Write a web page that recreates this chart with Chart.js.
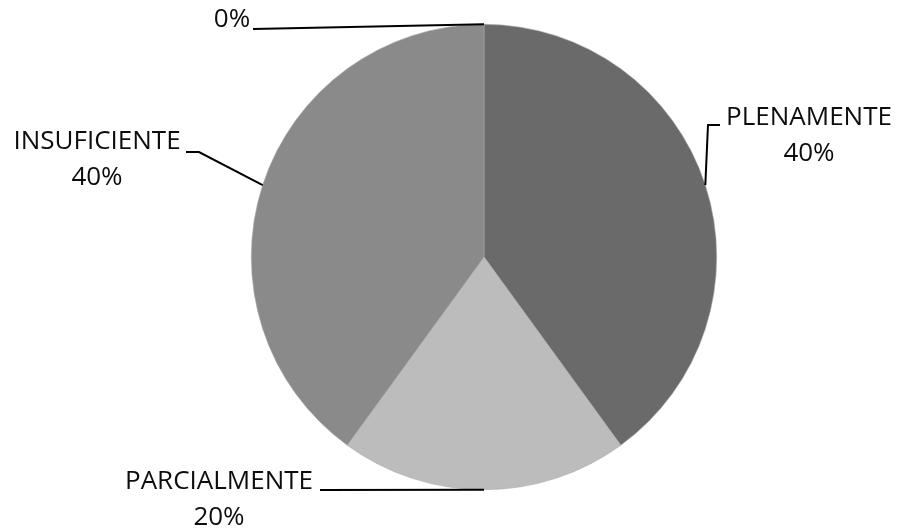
<!DOCTYPE html>
<html>
<head>
<meta charset="utf-8">
<script src="https://cdn.jsdelivr.net/npm/chart.js@4/dist/chart.umd.min.js"></script>
<style>
  html, body { margin: 0; padding: 0; background: #fff; }
  #wrap { width: 899px; height: 530px; }
</style>
</head>
<body>
<div id="wrap"><canvas id="pieChart" width="899" height="530"></canvas></div>
<script>
// chart data
const categories = ['PLENAMENTE', 'PARCIALMENTE', 'INSUFICIENTE', ''];
const values = [40, 20, 40, 0];
const sliceColors = ['#6a6a6a', '#bcbcbc', '#8a8a8a', '#8a8a8a'];

// where each label sits (text centre) and the elbow of its leader line
const labelSpots = [
  { x: 809, y: 118, elbow: [708, 125], start: [720, 125] },
  { x: 219, y: 482, elbow: null, start: [320, 490] },
  { x: 97, y: 142, elbow: [199, 152], start: [186, 152] },
  { x: 232, y: 20, elbow: null, start: [253, 29] }
];

const FONT = '26px "Open Sans", Calibri, sans-serif';

const leaderLabels = {
  id: 'leaderLabels',
  afterDatasetsDraw(chart) {
    const ctx = chart.ctx;
    const meta = chart.getDatasetMeta(0);
    const total = values.reduce((a, b) => a + b, 0);
    ctx.save();
    meta.data.forEach((arc, i) => {
      const p = arc.getProps(['x', 'y', 'startAngle', 'endAngle', 'outerRadius'], true);
      const mid = (p.startAngle + p.endAngle) / 2;
      const ex = p.x + Math.cos(mid) * p.outerRadius;
      const ey = p.y + Math.sin(mid) * p.outerRadius;
      const spot = labelSpots[i];

      // leader line
      ctx.strokeStyle = '#000';
      ctx.lineWidth = 2;
      ctx.beginPath();
      ctx.moveTo(spot.start[0], spot.start[1]);
      if (spot.elbow) ctx.lineTo(spot.elbow[0], spot.elbow[1]);
      ctx.lineTo(ex, ey);
      ctx.stroke();

      // text
      const pct = Math.round(values[i] / total * 100) + '%';
      ctx.fillStyle = '#0d0d0d';
      ctx.font = FONT;
      ctx.textAlign = 'center';
      ctx.textBaseline = 'middle';
      if (categories[i]) {
        ctx.fillText(categories[i], spot.x, spot.y);
        ctx.fillText(pct, spot.x, spot.y + 36);
      } else {
        ctx.fillText(pct, spot.x, spot.y);
      }
    });
    ctx.restore();
  }
};

new Chart(document.getElementById('pieChart'), {
  type: 'pie',
  data: {
    labels: categories,
    datasets: [{
      data: values,
      backgroundColor: sliceColors,
      borderColor: '#a8a8a8',
      borderWidth: 0.6
    }]
  },
  options: {
    responsive: false,
    animation: false,
    layout: { padding: { left: 251, right: 182, top: 24, bottom: 40 } },
    plugins: {
      legend: { display: false },
      tooltip: { enabled: false }
    }
  },
  plugins: [leaderLabels]
});
</script>
</body>
</html>
